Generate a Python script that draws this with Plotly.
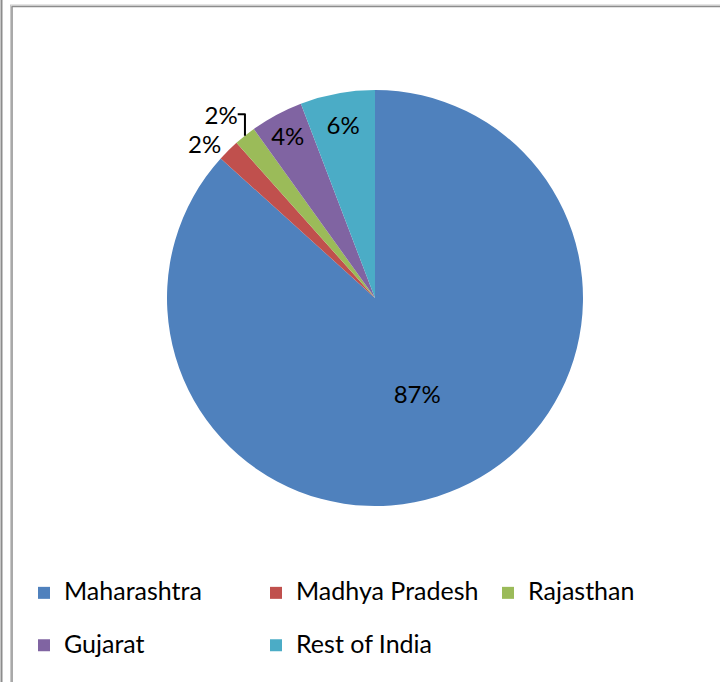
import plotly.graph_objects as go

W, H = 720, 682

regions = ["Maharashtra", "Madhya Pradesh", "Rajasthan", "Gujarat", "Rest of India"]
shares = [86.7, 1.7, 1.7, 4.1, 5.8]
colors = ["#4F81BD", "#C0504D", "#9BBB59", "#8064A2", "#4BACC6"]
text_pos = ["inside", "outside", "outside", "inside", "inside"]

FONT = "Lato"
LEGEND_TEXT_SIZE = 25
LEGEND_BASE_SIZE = 19  # sets the row pitch (first-row entries span two lines)
FIRST_ROW = 3

def px_x(p):
    return p / W

def px_y(p):
    return 1 - p / H

legend_labels = [
    f"<span style='font-size:{LEGEND_TEXT_SIZE}px'>{r}</span>" + ("<br> " if i < FIRST_ROW else "")
    for i, r in enumerate(regions)
]

fig = go.Figure()
fig.add_trace(go.Pie(
    labels=legend_labels,
    values=shares,
    sort=False,
    direction="clockwise",
    rotation=0,
    marker=dict(colors=colors, line=dict(width=0)),
    texttemplate="%{percent:.0%}",
    textposition=text_pos,
    insidetextorientation="horizontal",
    textfont=dict(family=FONT, size=24, color="#000000"),
    domain=dict(x=[px_x(167), px_x(583)], y=[px_y(506), px_y(90)]),
    hovertemplate="%{customdata}: %{percent}<extra></extra>",
    customdata=regions,
))

line_dark = "#8c8c8c"
line_light = "#c8c8c8"
shapes = [
    dict(type="line", xref="paper", yref="paper", x0=px_x(1.5), x1=px_x(1.5), y0=0, y1=1,
         line=dict(color=line_dark, width=2)),
    dict(type="line", xref="paper", yref="paper", x0=px_x(10.5), x1=px_x(10.5), y0=0, y1=px_y(5),
         line=dict(color=line_light, width=1)),
    dict(type="line", xref="paper", yref="paper", x0=px_x(12), x1=px_x(12), y0=0, y1=px_y(6.5),
         line=dict(color=line_dark, width=1.5)),
    dict(type="line", xref="paper", yref="paper", x0=px_x(10), x1=1, y0=px_y(5), y1=px_y(5),
         line=dict(color=line_light, width=1)),
    dict(type="line", xref="paper", yref="paper", x0=px_x(11.5), x1=1, y0=px_y(6.5), y1=px_y(6.5),
         line=dict(color=line_dark, width=1.5)),
]

fig.update_layout(
    width=W, height=H,
    margin=dict(l=0, r=0, t=0, b=0),
    paper_bgcolor="#ffffff",
    plot_bgcolor="#ffffff",
    font=dict(family=FONT, size=24, color="#000000"),
    showlegend=True,
    legend=dict(
        orientation="h",
        x=px_x(24), y=px_y(574), xanchor="left", yanchor="top",
        font=dict(family=FONT, size=LEGEND_BASE_SIZE, color="#000000"),
        itemwidth=30,
        entrywidth=187,
        valign="top",
        traceorder="normal",
        bgcolor="rgba(0,0,0,0)",
    ),
    shapes=shapes,
)

fig.write_html(
    "out.html",
    config={"displayModeBar": False},
    post_script="document.body.style.margin='0px';",
)
